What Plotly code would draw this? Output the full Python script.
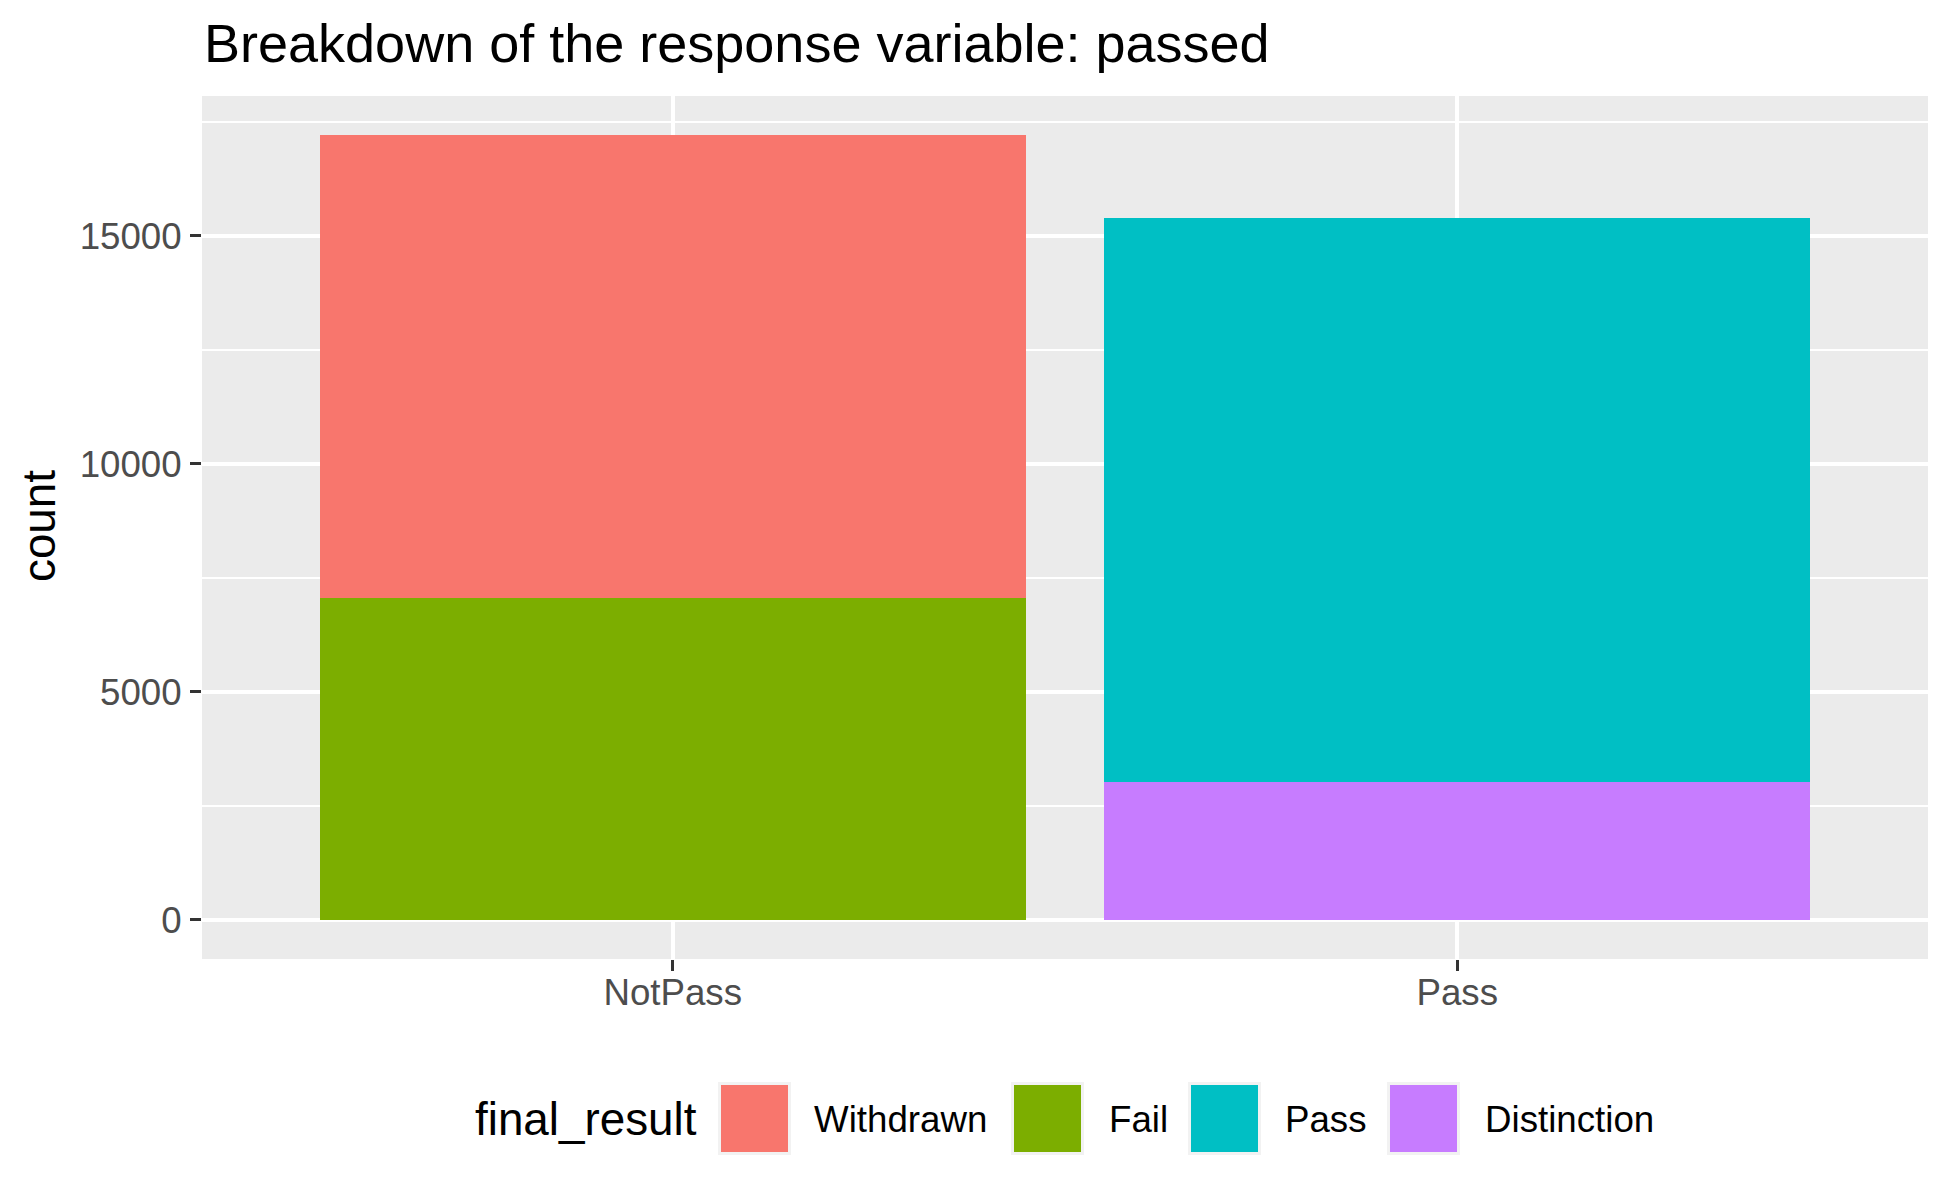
import plotly.graph_objects as go

# ---- data ----
categories = ["NotPass", "Pass"]
result_levels = ["Withdrawn", "Fail", "Pass", "Distinction"]
withdrawn = [10156, 0]
fail = [7052, 0]
pass_ = [0, 12361]
distinction = [0, 3024]
y_ticks = [0, 5000, 10000, 15000]
colors = {"Withdrawn": "#F8766D", "Fail": "#7CAE00", "Pass": "#00BFC4", "Distinction": "#C77CFF"}

W, H = 1950, 1200
L, R, T, B = 202, 22, 96, 241
PW, PH = W - L - R, H - T - B
FONT = "Liberation Sans, Arial, sans-serif"


def px_x(px):
    return (px - L) / PW


def px_y(py):
    return (H - B - py) / PH


fig = go.Figure()
# stacking: bottom first
for name, vals in [("Fail", fail), ("Distinction", distinction),
                   ("Withdrawn", withdrawn), ("Pass", pass_)]:
    fig.add_trace(go.Bar(x=categories, y=vals, name=name, width=0.9,
                         marker=dict(color=colors[name], line=dict(width=0)),
                         showlegend=False))

total_max = max(withdrawn[0] + fail[0], pass_[1] + distinction[1])
pad = 0.05 * total_max

fig.update_layout(
    width=W, height=H,
    margin=dict(l=L, r=R, t=T, b=B, pad=0),
    barmode="stack",
    paper_bgcolor="white",
    plot_bgcolor="#EBEBEB",
    font=dict(family=FONT, color="black"),
    title=dict(text="Breakdown of the response variable: passed",
               font=dict(size=54, color="black", family=FONT),
               x=204 / W, xanchor="left", xref="container",
               y=1 - 43 / H, yanchor="middle", yref="container"),
)
fig.update_xaxes(
    type="category", range=[-0.6, 1.6],
    showgrid=True, gridcolor="white", gridwidth=4,
    ticks="outside", ticklen=11, tickwidth=3, tickcolor="#333333",
    tickfont=dict(size=36.7, color="#4D4D4D", family=FONT),
    ticklabelstandoff=-10,
    zeroline=False, showline=False,
)
fig.update_yaxes(
    range=[-pad, total_max + pad],
    tickvals=y_ticks, ticktext=[str(v) for v in y_ticks],
    showgrid=True, gridcolor="white", gridwidth=4,
    minor=dict(dtick=2500, tick0=0, showgrid=True, gridcolor="white", gridwidth=2),
    ticks="outside", ticklen=11, tickwidth=3, tickcolor="#333333",
    tickfont=dict(size=36.7, color="#4D4D4D", family=FONT),
    ticklabelstandoff=1,
    zeroline=False, showline=False,
)

annotations = []
shapes = []
# y axis title
annotations.append(dict(text="count", textangle=-90, xref="paper", yref="paper",
                        x=px_x(39), y=px_y(526), xanchor="center", yanchor="middle",
                        showarrow=False, font=dict(size=45.8, color="black", family=FONT)))
# legend title
annotations.append(dict(text="final_result", xref="paper", yref="paper",
                        x=px_x(473), y=px_y(1119), xanchor="left", yanchor="middle",
                        showarrow=False, font=dict(size=45.8, color="black", family=FONT)))
key_left = {"Withdrawn": 721, "Fail": 1014, "Pass": 1191, "Distinction": 1390}
label_left = {"Withdrawn": 812, "Fail": 1107, "Pass": 1283, "Distinction": 1483}
for name in result_levels:
    x0 = key_left[name]
    shapes.append(dict(type="rect", xref="paper", yref="paper",
                       x0=px_x(x0 - 3), x1=px_x(x0 + 70), y0=px_y(1155), y1=px_y(1082),
                       fillcolor="#F2F2F2", line=dict(width=0), layer="above"))
    shapes.append(dict(type="rect", xref="paper", yref="paper",
                       x0=px_x(x0), x1=px_x(x0 + 67), y0=px_y(1152), y1=px_y(1085),
                       fillcolor=colors[name], line=dict(width=0), layer="above"))
    annotations.append(dict(text=name, xref="paper", yref="paper",
                            x=px_x(label_left[name]), y=px_y(1119),
                            xanchor="left", yanchor="middle", showarrow=False,
                            font=dict(size=36.7, color="black", family=FONT)))

fig.update_layout(annotations=annotations, shapes=shapes)
fig.write_html("out.html", config={"displayModeBar": False},
               post_script="document.body.style.margin='0';document.body.style.overflow='hidden';")
